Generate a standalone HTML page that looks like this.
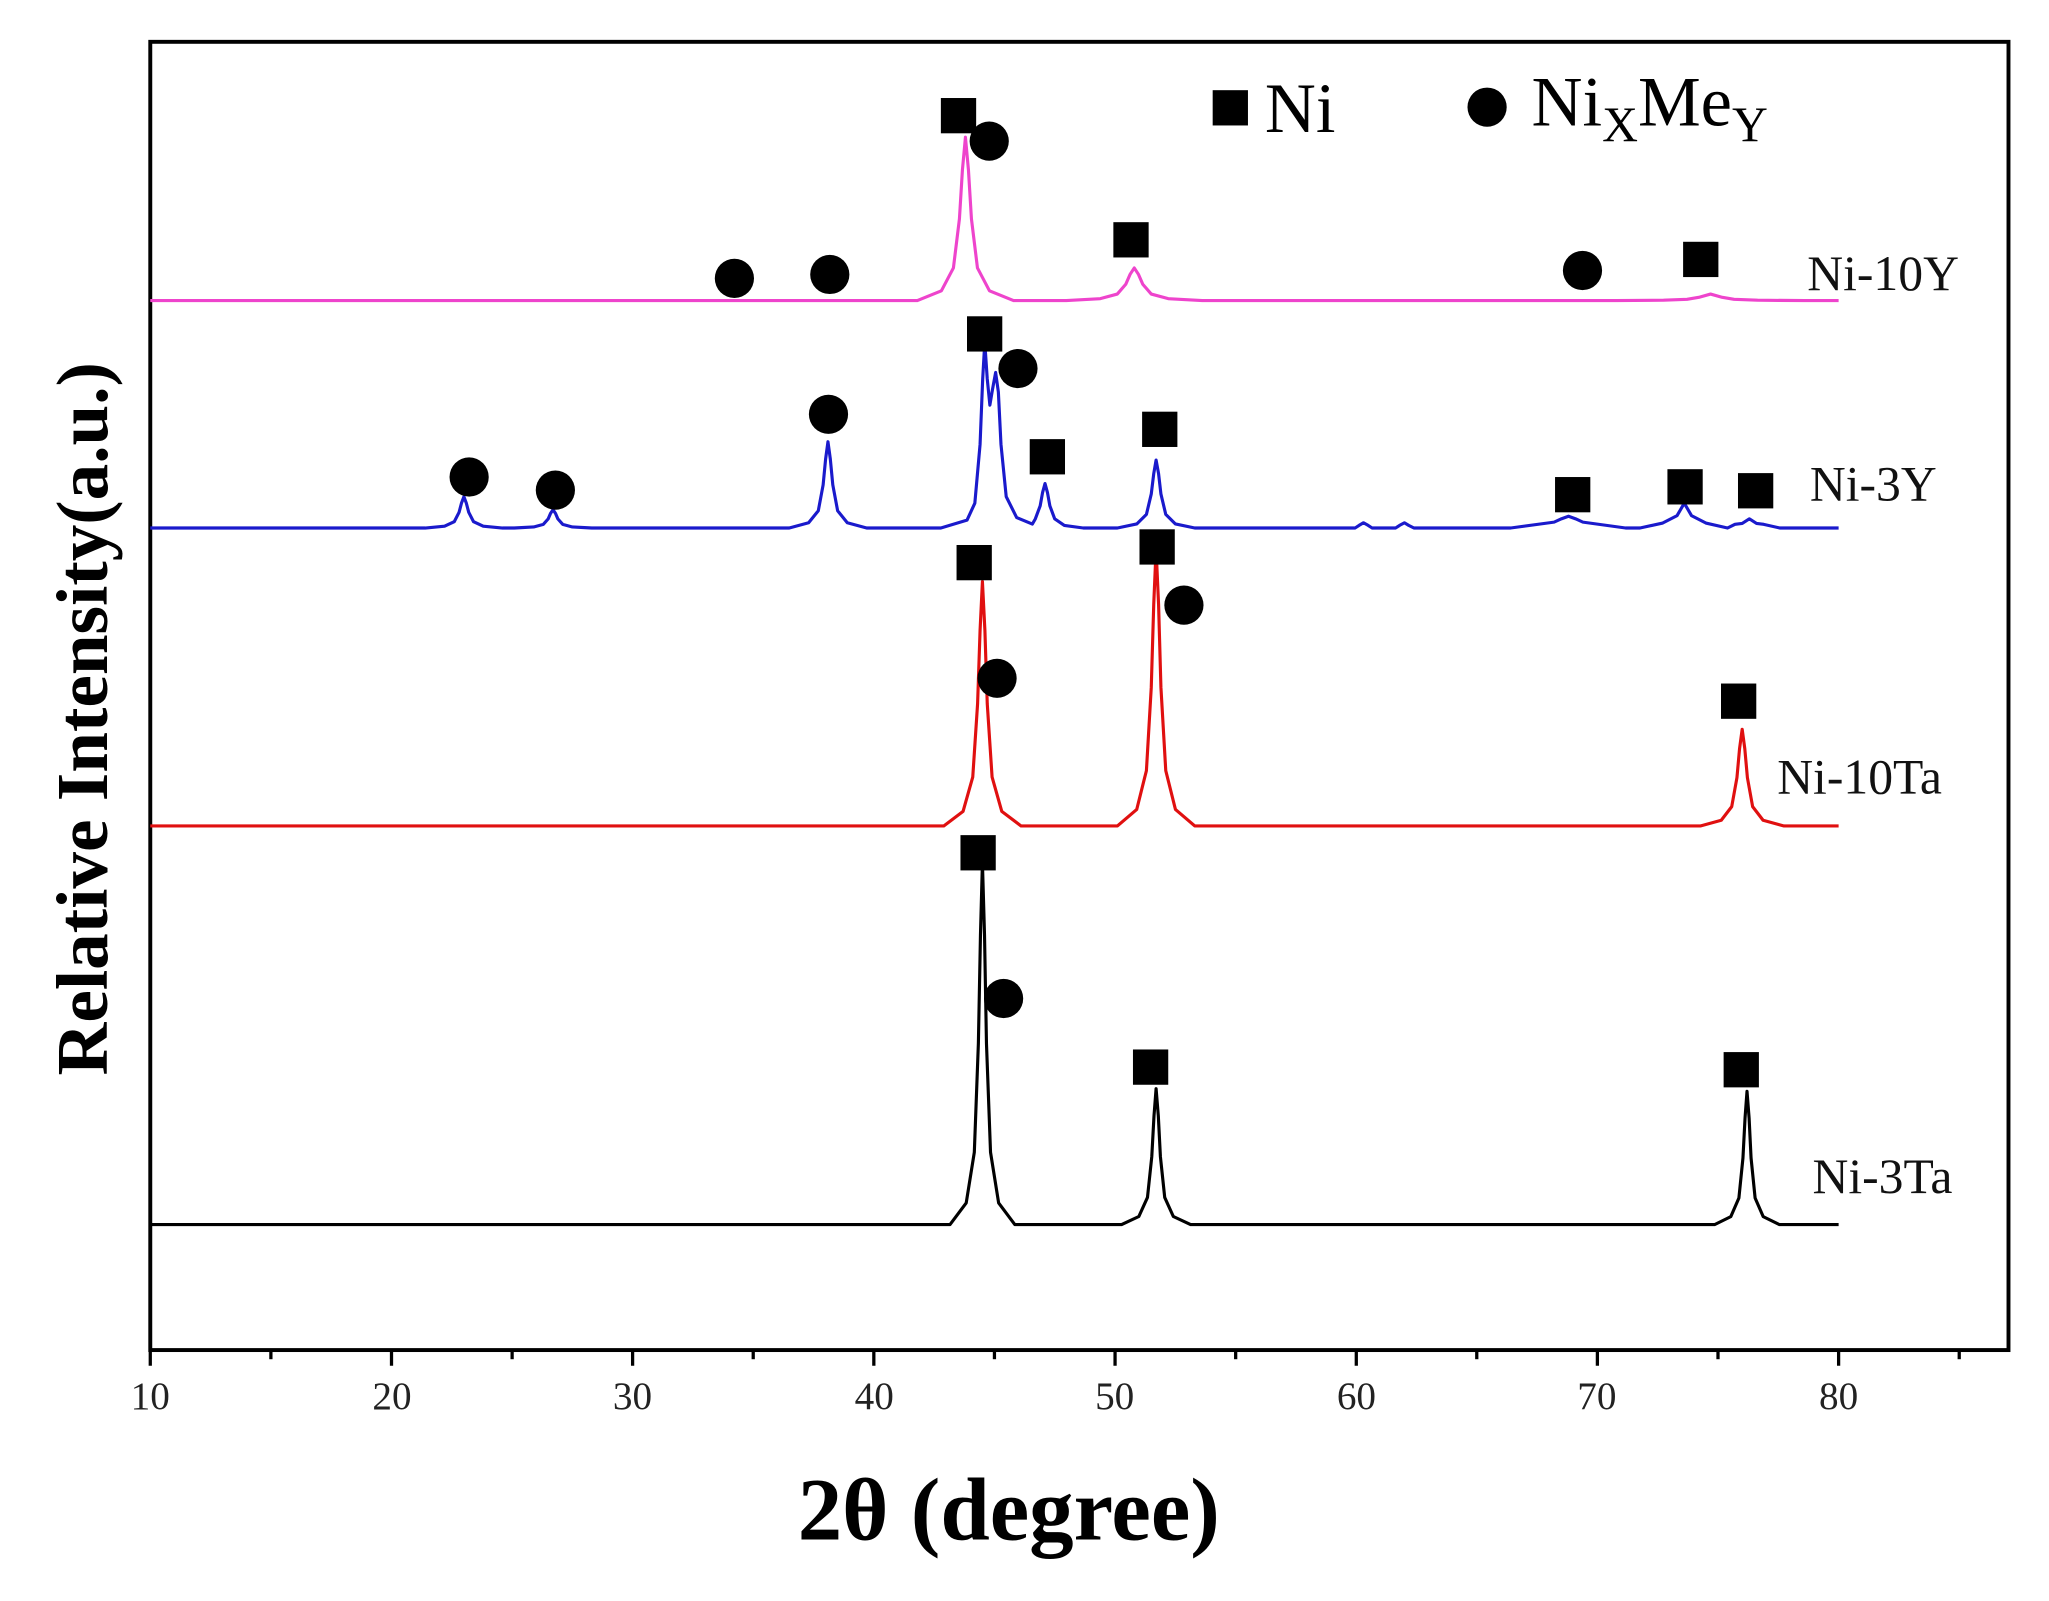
<!DOCTYPE html>
<html><head><meta charset="utf-8"><style>
html,body{margin:0;padding:0;background:#fff;}
svg{display:block}
</style></head><body>
<svg width="2049" height="1601" viewBox="0 0 1568 1225" preserveAspectRatio="none" xmlns="http://www.w3.org/2000/svg" font-family="Liberation Serif, serif">
<rect x="115" y="32" width="1422" height="1001" fill="none" stroke="#000" stroke-width="3"/>
<g stroke="#000" stroke-width="2.5">
<line x1="115" y1="1033" x2="115" y2="1045"/><line x1="207.3" y1="1033" x2="207.3" y2="1040"/>
<line x1="299.6" y1="1033" x2="299.6" y2="1045"/><line x1="391.9" y1="1033" x2="391.9" y2="1040"/>
<line x1="484.1" y1="1033" x2="484.1" y2="1045"/><line x1="576.4" y1="1033" x2="576.4" y2="1040"/>
<line x1="668.7" y1="1033" x2="668.7" y2="1045"/><line x1="761" y1="1033" x2="761" y2="1040"/>
<line x1="853.3" y1="1033" x2="853.3" y2="1045"/><line x1="945.6" y1="1033" x2="945.6" y2="1040"/>
<line x1="1037.9" y1="1033" x2="1037.9" y2="1045"/><line x1="1130.1" y1="1033" x2="1130.1" y2="1040"/>
<line x1="1222.4" y1="1033" x2="1222.4" y2="1045"/><line x1="1314.7" y1="1033" x2="1314.7" y2="1040"/>
<line x1="1407" y1="1033" x2="1407" y2="1045"/><line x1="1499.3" y1="1033" x2="1499.3" y2="1040"/>
</g>
<g font-size="30" fill="#222" text-anchor="middle">
<text x="115" y="1078">10</text><text x="300" y="1078">20</text><text x="484" y="1078">30</text><text x="669" y="1078">40</text><text x="853" y="1078">50</text><text x="1038" y="1078">60</text><text x="1222" y="1078">70</text><text x="1407" y="1078">80</text>
</g>
<text x="772" y="1178" font-size="68" font-weight="bold" text-anchor="middle">2θ (degree)</text>
<text transform="translate(82,550) rotate(-90)" font-size="56" font-weight="bold" text-anchor="middle">Relative Intensity(a.u.)</text>
<g fill="none" stroke-width="2.4" stroke-linejoin="round">
<path stroke="#ee44cc" d="M115 230 L702 230 720.4 222.5 729.6 205 734.2 167.5 736.5 130 738.8 105 741.1 130 743.4 167.5 748 205 757.2 222.5 775.6 230 L816 230 842 228.5 855 225 861.5 217.5 864.75 210 868 205 871.25 210 874.5 217.5 881 225 894 228.5 920 230 L1237 230 1273 229.7 1291 229 1300 227.5 1309 225 1318 227.5 1327 229 1345 229.7 1381 230 1407 230"/>
<path stroke="#1a1acc" d="M115 404 L325.4 404 340.2 402.6 347.6 399.2 351.3 392 353.2 384.8 355 380 356.8 384.8 358.7 392 362.4 399.2 369.8 402.6 384.6 404 L393.6 404 408.4 403.2 415.8 401.2 419.5 397 421.3 392.8 423.2 390 425.1 392.8 426.9 397 430.6 401.2 438 403.2 452.8 404 L604 404 618.8 400 626.2 390.8 629.9 371 631.8 351.2 633.6 338 635.4 351.2 637.3 371 641 390.8 648.4 400 663.2 404 L720 404 740 398 746 385 750 340 752 290 753.6 262 755.5 290 757.5 310 759.5 298 761.9 285 764 300 766 340 770 380 778 396 790 401 792.3 397 796 387 797.8 377 799.7 370 801.6 377 803.4 387 807.1 397 814.5 402 829 404 L855.1 404 869.9 400.9 877.3 393.6 881 378 882.9 362.4 884.7 352 886.6 362.4 888.4 378 892.1 393.6 899.5 400.9 914.3 404 L1037 404 1040 402 1043.4 400 1047 402 1050 404 L1068 404 1071 402 1074.8 400 1078 402 1082 404 L1156 404 1189.3 399.5 1194.8 397 1200.3 395 1205.8 397 1211.3 399.5 1244 404 L1255 404 1272.4 400.2 1283.4 394.5 1288.9 385 1294.4 394.5 1305.4 400.2 1322 404 L1327.7 401.2 1333.2 400.5 1338.7 397 1344.2 400.5 1349.7 401.2 1362 404 1407 404"/>
<path stroke="#e01010" d="M115 632 L722.2 632 737 620.8 744.4 594.6 748.1 538.5 750 482.4 751.8 445 753.7 482.4 755.5 538.5 759.2 594.6 766.6 620.8 781.4 632 L855.1 632 869.9 619.3 877.3 589.6 881 526 882.9 462.4 884.7 420 886.6 462.4 888.4 526 892.1 589.6 899.5 619.3 914.3 632 L1301.2 632 1317.2 627.6 1325.2 617.2 1329.2 595 1331.2 572.8 1333.2 558 1335.2 572.8 1337.2 595 1341.2 617.2 1349.2 627.6 1365.2 632 1407 632"/>
<path stroke="#000" d="M115 937 L727 937 739.4 920.4 745.6 881.6 748.7 798.5 750.3 715.4 751.8 660 753.4 715.4 754.9 798.5 758 881.6 764.2 920.4 776.6 937 L858.3 937 871.5 930.8 878.1 916.2 881.4 885 883.1 853.8 884.7 833 886.4 853.8 888 885 891.3 916.2 897.9 930.8 911.1 937 L1312.1 937 1324.5 930.9 1330.7 916.6 1333.8 886 1335.4 855.4 1336.9 835 1338.5 855.4 1340 886 1343.1 916.6 1349.3 930.9 1361.7 937 1407 937"/>
</g>
<g fill="#000">
<rect x="720" y="75" width="27" height="27"/><rect x="852" y="170" width="27" height="27"/><rect x="1288" y="185" width="27" height="27"/>
<rect x="740" y="242" width="27" height="27"/><rect x="788" y="336" width="27" height="27"/><rect x="874" y="315" width="27" height="27"/>
<rect x="1190" y="365" width="27" height="27"/><rect x="1276" y="359" width="27" height="27"/><rect x="1330" y="362" width="27" height="27"/>
<rect x="732" y="417" width="27" height="27"/><rect x="872" y="405" width="27" height="27"/><rect x="1317" y="523" width="27" height="27"/>
<rect x="735" y="639" width="27" height="27"/><rect x="867" y="803" width="27" height="27"/><rect x="1319" y="805" width="27" height="27"/>
<circle cx="757" cy="108" r="15"/><circle cx="562" cy="213" r="15"/><circle cx="635" cy="210" r="15"/><circle cx="1211" cy="207" r="15"/>
<circle cx="779" cy="282" r="15"/><circle cx="634" cy="317" r="15"/><circle cx="359" cy="365" r="15"/><circle cx="425" cy="375" r="15"/>
<circle cx="763" cy="519" r="15"/><circle cx="906" cy="463" r="15"/><circle cx="768" cy="764" r="15"/>
</g>
<g font-size="38" fill="#111">
<text x="1383" y="222">Ni-10Y</text>
<text x="1385" y="383">Ni-3Y</text>
<text x="1360" y="607">Ni-10Ta</text>
<text x="1387" y="913">Ni-3Ta</text>
</g>
<rect x="928" y="69" width="27" height="27" fill="#000"/>
<text x="968" y="101" font-size="54">Ni</text>
<circle cx="1138" cy="82" r="15" fill="#000"/>
<text x="1172" y="96" font-size="54">Ni<tspan font-size="38" dy="12">X</tspan><tspan font-size="54" dy="-12">Me</tspan><tspan font-size="38" dy="12">Y</tspan></text>
</svg>
</body></html>
